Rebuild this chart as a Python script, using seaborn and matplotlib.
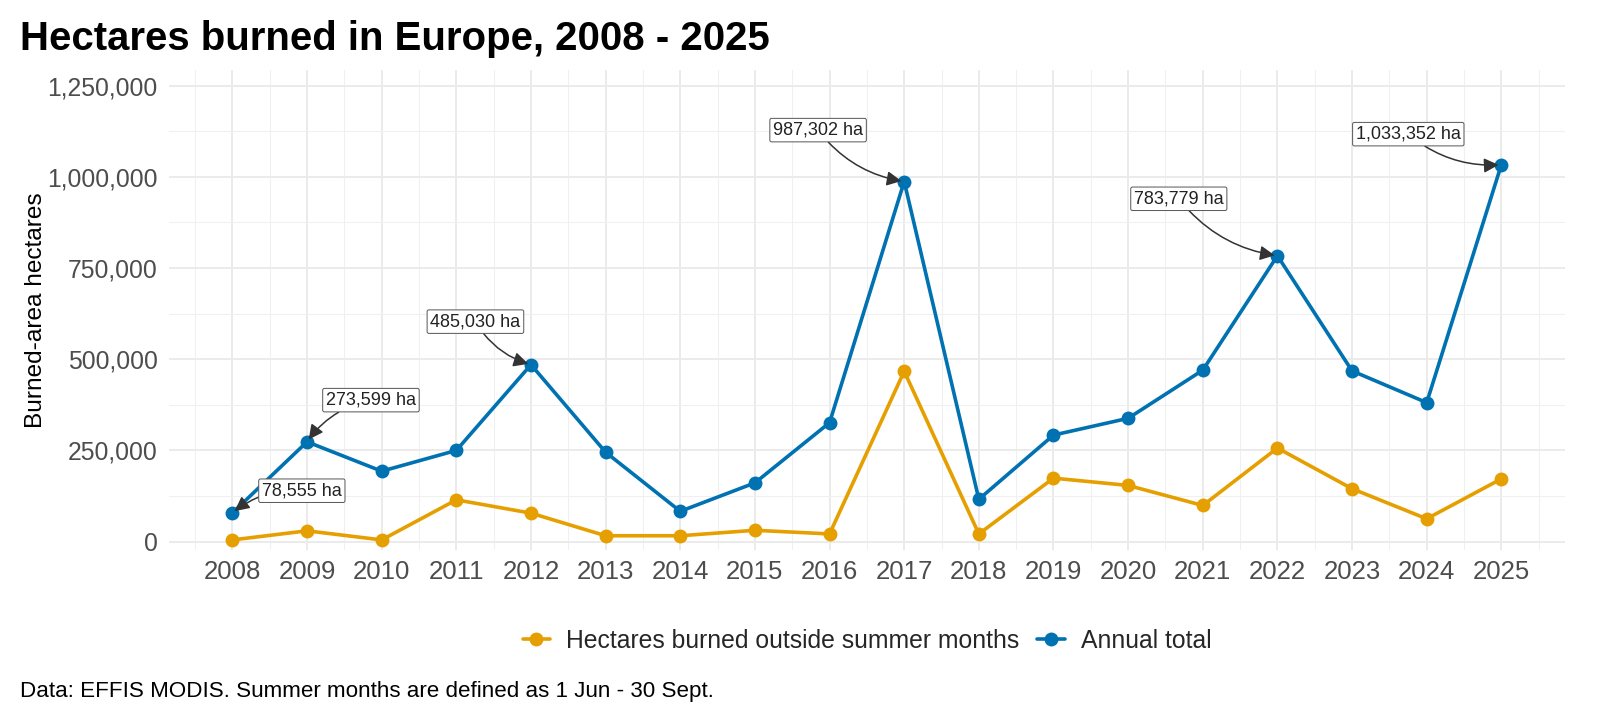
import numpy as np
import pandas as pd
import matplotlib
matplotlib.use("Agg")
import matplotlib.pyplot as plt
from matplotlib.ticker import MultipleLocator, StrMethodFormatter
import seaborn as sns

# ---- data ----
years = list(range(2008, 2026))
annual_total = [78555, 273599, 193000, 250000, 485030, 245000, 83000, 161000, 326000,
                987302, 116000, 292000, 338000, 470000, 783779, 468000, 381000, 1033352]
outside_summer = [4600, 29500, 4600, 114500, 78000, 16000, 16000, 31000, 21000,
                  467000, 21000, 174000, 154000, 99000, 256500, 145000, 62500, 172000]
series_names = ["Hectares burned outside summer months", "Annual total"]
series_colors = ["#E69F00", "#0072B2"]
annotated_years = [2008, 2009, 2012, 2017, 2022, 2025]
annot_offsets = [(50, 16), (46, 30), (-40, 31), (-62, 37), (-71, 41), (-67, 22)]

title = "Hectares burned in Europe, 2008 - 2025"
ylabel = "Burned-area hectares"
caption = "Data: EFFIS MODIS. Summer months are defined as 1 Jun - 30 Sept."

df = pd.concat([
    pd.DataFrame({"year": years, "hectares": outside_summer, "series": series_names[0]}),
    pd.DataFrame({"year": years, "hectares": annual_total, "series": series_names[1]}),
])

sns.set_theme(style="white")
plt.rcParams["font.family"] = ["Liberation Sans", "DejaVu Sans"]

fig = plt.figure(figsize=(16, 7.27), dpi=100)
ax_left, ax_right, ax_bottom, ax_top = 0.1056, 0.978, 0.2435, 0.9037
ax = fig.add_axes([ax_left, ax_bottom, ax_right - ax_left, ax_top - ax_bottom])

sns.lineplot(data=df, x="year", y="hectares", hue="series", hue_order=series_names,
             palette=series_colors, marker="o", markersize=10, markeredgewidth=0,
             linewidth=2.6, ax=ax, legend=True, zorder=3)

# axes
span = years[-1] - years[0]
ax.set_xlim(years[0] - 0.05 * span, years[-1] + 0.05 * span)
ax.set_ylim(-23000, 1293000)
ax.xaxis.set_major_locator(MultipleLocator(1))
ax.xaxis.set_minor_locator(MultipleLocator(0.5))
ax.yaxis.set_major_locator(MultipleLocator(250000))
ax.yaxis.set_minor_locator(MultipleLocator(125000))
ax.yaxis.set_major_formatter(StrMethodFormatter("{x:,.0f}"))
ax.xaxis.set_major_formatter(StrMethodFormatter("{x:.0f}"))
ax.grid(which="major", color="#EBEBEB", linewidth=1.4)
ax.grid(which="minor", color="#F0F0F0", linewidth=0.8)
ax.set_axisbelow(True)
for s in ax.spines.values():
    s.set_visible(False)
ax.tick_params(axis="both", which="both", length=0, colors="#4D4D4D")
ax.tick_params(axis="x", labelsize=18.5, pad=7)
ax.tick_params(axis="y", labelsize=17.8, pad=8)
ax.set_xlabel("")
ax.set_ylabel(ylabel, fontsize=17.6, color="black")
ax.yaxis.set_label_coords(-0.0872, 0.5)

# annotations
total_map = dict(zip(years, annual_total))
for yr, off in zip(annotated_years, annot_offsets):
    val = total_map[yr]
    ax.annotate(f"{val:,} ha", xy=(yr, val), xytext=off, textcoords="offset points",
                ha="center", va="center", fontsize=13, color="#222222",
                bbox=dict(boxstyle="round,pad=0.18,rounding_size=0.1", fc="white",
                          ec="#555555", lw=0.7),
                arrowprops=dict(arrowstyle="-|>", color="#333333", lw=1.1,
                                connectionstyle="arc3,rad=0.2", shrinkA=0, shrinkB=2,
                                mutation_scale=22),
                zorder=5)

# legend
handles, labels = ax.get_legend_handles_labels()
ax.legend(handles, labels, loc="center",
          bbox_to_anchor=((ax_left + ax_right) / 2, (727 - 641) / 727),
          bbox_transform=fig.transFigure, ncol=2, frameon=False, fontsize=17.8,
          handlelength=1.12, handletextpad=0.65, columnspacing=0.7)

fig.text(20 / 1600, 1 - 39 / 727, title, fontsize=28.9, fontweight="bold",
         ha="left", va="center", color="black")
fig.text(20 / 1600, 1 - 692 / 727, caption, fontsize=16.1, ha="left", va="center",
         color="black")

fig.savefig("out.png", dpi=100)
